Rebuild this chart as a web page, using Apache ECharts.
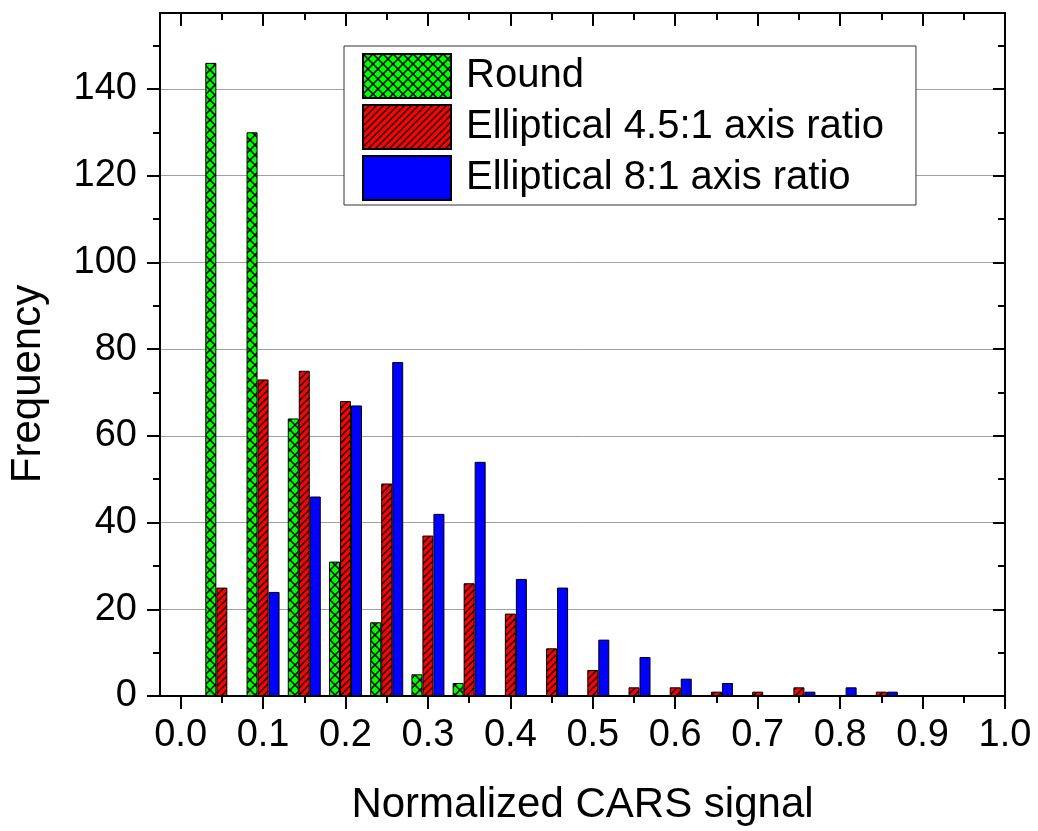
<!DOCTYPE html>
<html>
<head>
<meta charset="utf-8">
<script src="https://cdn.jsdelivr.net/npm/echarts@6/dist/echarts.min.js"></script>
<style>
html,body{margin:0;padding:0;background:#fff;}
#chart{width:1038px;height:831px;}
</style>
</head>
<body>
<div id="chart"></div>
<script>
// ---- data ----
const bins = [0.05, 0.10, 0.15, 0.20, 0.25, 0.30, 0.35, 0.40, 0.45, 0.50, 0.55, 0.60, 0.65, 0.70, 0.75, 0.80, 0.85];
const roundVals = [146, 130, 64, 31, 17, 5, 3, 0, 0, 0, 0, 0, 0, 0, 0, 0, 0];
const ell45Vals = [25, 73, 75, 68, 49, 37, 26, 19, 11, 6, 2, 2, 1, 1, 2, 0, 1];
const ell8Vals  = [0, 24, 46, 67, 77, 42, 54, 27, 25, 13, 9, 4, 3, 0, 1, 2, 1];
const seriesNames = ['Round', 'Elliptical 4.5:1 axis ratio', 'Elliptical 8:1 axis ratio'];
const xMajorTicks = [0.0, 0.1, 0.2, 0.3, 0.4, 0.5, 0.6, 0.7, 0.8, 0.9, 1.0];
const xMinorTicks = [0.05, 0.15, 0.25, 0.35, 0.45, 0.55, 0.65, 0.75, 0.85, 0.95];
const yMajorTicks = [0, 20, 40, 60, 80, 100, 120, 140];
const yMinorTicks = [10, 30, 50, 70, 90, 110, 130, 150];
const xTitle = 'Normalized CARS signal';
const yTitle = 'Frequency';

// ---- patterns ----
function crossPattern(color) {
  const s = 10, c = document.createElement('canvas');
  c.width = c.height = s;
  const g = c.getContext('2d');
  g.fillStyle = color; g.fillRect(0, 0, s, s);
  g.strokeStyle = '#000'; g.lineWidth = 1.5;
  g.beginPath();
  g.moveTo(0, 0); g.lineTo(s, s);
  g.moveTo(s, 0); g.lineTo(0, s);
  g.stroke();
  return c;
}
function hatchPattern(color) {
  const s = 7, c = document.createElement('canvas');
  c.width = c.height = s;
  const g = c.getContext('2d');
  g.fillStyle = color; g.fillRect(0, 0, s, s);
  g.strokeStyle = '#000'; g.lineWidth = 1.4;
  g.beginPath();
  g.moveTo(0, s); g.lineTo(s, 0);
  g.moveTo(-1, 1); g.lineTo(1, -1);
  g.moveTo(s - 1, s + 1); g.lineTo(s + 1, s - 1);
  g.stroke();
  return c;
}

const FONT = "'Liberation Sans', Arial, sans-serif";
const X_MIN = -0.025, X_MAX = 1.0, Y_MIN = 0, Y_MAX = 157.5;

function toData(vals) {
  return bins.map((b, i) => [b, vals[i]]).filter(d => d[1] > 0);
}

function xAxisDef(pos, ticks, len, inside, withLine, withLabel) {
  return {
    type: 'value', position: pos, min: X_MIN, max: X_MAX, gridIndex: 0,
    axisLine: { show: withLine, onZero: false, lineStyle: { color: '#000', width: 2 } },
    axisTick: { show: true, inside: inside, length: len, customValues: ticks, lineStyle: { color: '#000', width: 2 } },
    axisLabel: withLabel ? {
      show: true, customValues: ticks, margin: 21,
      formatter: v => Number(v).toFixed(1),
      fontSize: 38, fontFamily: FONT, color: '#000'
    } : { show: false },
    splitLine: { show: false }
  };
}
function yAxisDef(pos, ticks, len, inside, withLine, withLabel, split) {
  return {
    type: 'value', position: pos, min: Y_MIN, max: Y_MAX, interval: 20, gridIndex: 0,
    axisLine: { show: withLine, onZero: false, lineStyle: { color: '#000', width: 2 } },
    axisTick: { show: true, inside: inside, length: len, customValues: ticks, lineStyle: { color: '#000', width: 2 } },
    axisLabel: withLabel ? {
      show: true, customValues: ticks, margin: 23,
      fontSize: 38, fontFamily: FONT, color: '#000'
    } : { show: false },
    splitLine: split ? { show: true, lineStyle: { color: '#a0a0a0', width: 1 } } : { show: false }
  };
}

const chart = echarts.init(document.getElementById('chart'), null, { renderer: 'canvas' });

const bottomMain = xAxisDef('bottom', xMajorTicks, 13, false, true, true);
bottomMain.name = xTitle;
bottomMain.nameLocation = 'middle';
bottomMain.nameGap = 88;
bottomMain.nameTextStyle = { fontSize: 42, fontFamily: FONT, color: '#000' };

const option = {
  backgroundColor: '#fff',
  animation: false,
  grid: { left: 160, right: 33, top: 13, bottom: 132, containLabel: false },
  legend: {
    orient: 'vertical', left: 344, top: 46,
    padding: [7, 32, 4, 18],
    backgroundColor: '#fff', borderColor: '#333', borderWidth: 1,
    itemWidth: 88, itemHeight: 44, itemGap: 5,
    icon: 'rect',
    textStyle: { fontSize: 40, fontFamily: FONT, color: '#000', padding: [0, 0, 0, 10] },
    data: seriesNames
  },
  xAxis: [
    bottomMain,
    xAxisDef('bottom', xMinorTicks, 7, false, false, false),
    xAxisDef('top', xMajorTicks, 13, true, true, false),
    xAxisDef('top', xMinorTicks, 7, true, false, false)
  ],
  yAxis: [
    yAxisDef('left', yMajorTicks, 13, false, true, true, true),
    yAxisDef('left', yMinorTicks, 7, false, false, false, false),
    yAxisDef('right', yMajorTicks, 12, true, true, false, false),
    yAxisDef('right', yMinorTicks, 7, true, false, false, false)
  ],
  graphic: [{
    type: 'text',
    x: 28, y: 384,
    rotation: Math.PI / 2,
    style: {
      text: yTitle, fontSize: 42, fontFamily: FONT, fill: '#000',
      align: 'center', verticalAlign: 'middle'
    }
  }],
  series: [
    {
      name: seriesNames[0], type: 'bar', xAxisIndex: 0, yAxisIndex: 0,
      barWidth: 11, barGap: '0%',
      itemStyle: { color: { image: crossPattern('#00ff00'), repeat: 'repeat' }, borderColor: '#000', borderWidth: 1 },
      data: toData(roundVals)
    },
    {
      name: seriesNames[1], type: 'bar', xAxisIndex: 0, yAxisIndex: 0,
      barWidth: 11, barGap: '0%',
      itemStyle: { color: { image: hatchPattern('#ff0000'), repeat: 'repeat' }, borderColor: '#000', borderWidth: 1 },
      data: toData(ell45Vals)
    },
    {
      name: seriesNames[2], type: 'bar', xAxisIndex: 0, yAxisIndex: 0,
      barWidth: 11, barGap: '0%',
      itemStyle: { color: '#0000ff', borderColor: '#000', borderWidth: 1 },
      data: toData(ell8Vals)
    }
  ]
};
chart.setOption(option);
</script>
</body>
</html>
